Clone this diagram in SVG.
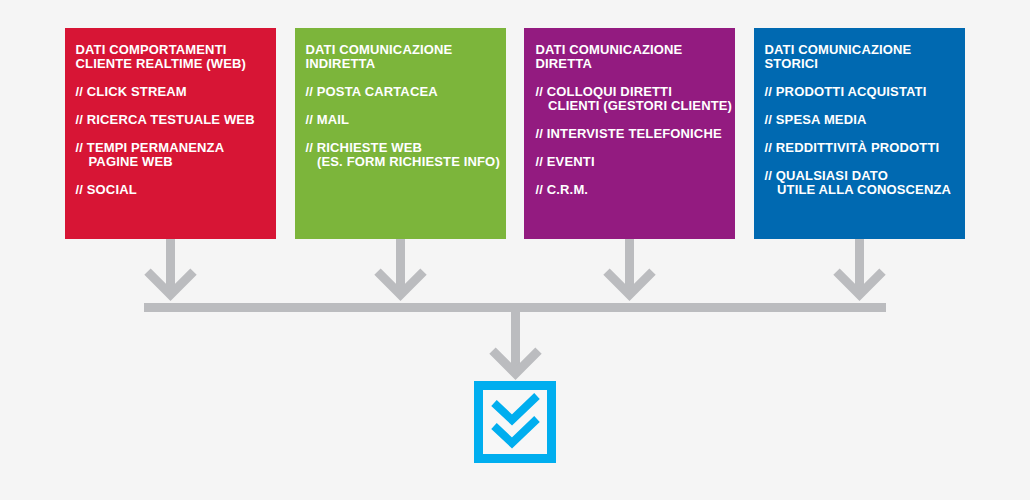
<svg xmlns="http://www.w3.org/2000/svg" width="1030" height="500" viewBox="0 0 1030 500">
<style>
.t{font-family:"Liberation Sans",Arial,sans-serif;font-weight:bold;font-size:13px;letter-spacing:0.15px;fill:#ffffff}
.stem{stroke:#bbbcbf;stroke-width:9;fill:none}
.chev{stroke:#bbbcbf;stroke-width:9;fill:none;stroke-linejoin:miter;stroke-linecap:butt}
.chk{stroke:#00aeef;stroke-width:8;fill:none;stroke-linejoin:miter;stroke-linecap:butt}
</style>
<rect x="0" y="0" width="1030" height="500" fill="#f5f5f5"/>
<g id="connectors">
  <line class="stem" x1="170.5" y1="239" x2="170.5" y2="294"/>
  <polyline class="chev" points="147.5,271.6 170.5,294.6 193.5,271.6"/>
  <line class="stem" x1="400.5" y1="239" x2="400.5" y2="294"/>
  <polyline class="chev" points="377.5,271.6 400.5,294.6 423.5,271.6"/>
  <line class="stem" x1="629.5" y1="239" x2="629.5" y2="294"/>
  <polyline class="chev" points="606.5,271.6 629.5,294.6 652.5,271.6"/>
  <line class="stem" x1="859.5" y1="239" x2="859.5" y2="294"/>
  <polyline class="chev" points="836.5,271.6 859.5,294.6 882.5,271.6"/>
  <rect x="144" y="303" width="742" height="9" fill="#bbbcbf"/>
  <line class="stem" x1="515.5" y1="312" x2="515.5" y2="373"/>
  <polyline class="chev" points="492.5,350.6 515.5,373.6 538.5,350.6"/>
</g>
<g id="node-web">
  <rect x="65" y="28" width="211" height="211" fill="#d71535"/>
  <text class="t" x="75.5" y="54">DATI COMPORTAMENTI</text>
  <text class="t" x="75.5" y="68">CLIENTE REALTIME (WEB)</text>
  <text class="t" x="75.5" y="96">// CLICK STREAM</text>
  <text class="t" x="75.5" y="124">// RICERCA TESTUALE WEB</text>
  <text class="t" x="75.5" y="152">// TEMPI PERMANENZA</text>
  <text class="t" x="88.5" y="166">PAGINE WEB</text>
  <text class="t" x="75.5" y="194">// SOCIAL</text>
</g>
<g id="node-indiretta">
  <rect x="295" y="28" width="211" height="211" fill="#7cb53b"/>
  <text class="t" x="305.5" y="54">DATI COMUNICAZIONE</text>
  <text class="t" x="305.5" y="68">INDIRETTA</text>
  <text class="t" x="305.5" y="96">// POSTA CARTACEA</text>
  <text class="t" x="305.5" y="124">// MAIL</text>
  <text class="t" x="305.5" y="152">// RICHIESTE WEB</text>
  <text class="t" x="317" y="166">(ES. FORM RICHIESTE INFO)</text>
</g>
<g id="node-diretta">
  <rect x="524" y="28" width="211" height="211" fill="#931b80"/>
  <text class="t" x="535.5" y="54">DATI COMUNICAZIONE</text>
  <text class="t" x="535.5" y="68">DIRETTA</text>
  <text class="t" x="535.5" y="96">// COLLOQUI DIRETTI</text>
  <text class="t" x="548" y="110">CLIENTI (GESTORI CLIENTE)</text>
  <text class="t" x="535.5" y="138">// INTERVISTE TELEFONICHE</text>
  <text class="t" x="535.5" y="166">// EVENTI</text>
  <text class="t" x="535.5" y="194">// C.R.M.</text>
</g>
<g id="node-storici">
  <rect x="754" y="28" width="211" height="211" fill="#0069b1"/>
  <text class="t" x="764.5" y="54">DATI COMUNICAZIONE</text>
  <text class="t" x="764.5" y="68">STORICI</text>
  <text class="t" x="764.5" y="96">// PRODOTTI ACQUISTATI</text>
  <text class="t" x="764.5" y="124">// SPESA MEDIA</text>
  <text class="t" x="764.5" y="152">// REDDITTIVITÀ PRODOTTI</text>
  <text class="t" x="764.5" y="180">// QUALSIASI DATO</text>
  <text class="t" x="777" y="194">UTILE ALLA CONOSCENZA</text>
</g>
<g id="node-check">
  <rect x="478.5" y="385.5" width="73" height="73" fill="#f7f7f7" stroke="#00aeef" stroke-width="9"/>
  <polyline class="chk" points="494,403 512,420 537,396"/>
  <polyline class="chk" points="494,426 512,443 537,419"/>
</g>
</svg>
